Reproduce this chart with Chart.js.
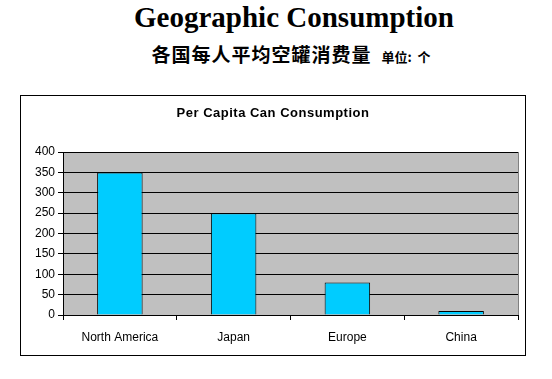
<!DOCTYPE html>
<html><head><meta charset="utf-8">
<script src="https://cdn.jsdelivr.net/npm/chart.js@4/dist/chart.umd.min.js"></script>
<style>
html,body{margin:0;padding:0;background:#fff;width:552px;height:379px;overflow:hidden;}
#t1{position:absolute;left:0;top:-1px;width:552px;padding-left:36px;box-sizing:border-box;text-align:center;font:bold 29px "Liberation Serif","Times New Roman",serif;line-height:36px;color:#000;}
#t2{position:absolute;left:0;top:40px;width:552px;padding-left:30px;box-sizing:border-box;text-align:center;color:#000;line-height:28px;}
#t2 .a{font:bold 19px "Noto Sans CJK SC",sans-serif;letter-spacing:1px;}
#t2 .b{font:bold 13px "Noto Sans CJK SC",sans-serif;margin-left:10px;word-spacing:3px;}
#box{position:absolute;left:20px;top:95px;width:504px;height:259px;border:1px solid #000;}
#ct{position:absolute;left:0;top:9px;width:504px;text-align:center;font:bold 13px "Liberation Sans",Arial,sans-serif;letter-spacing:0.5px;color:#000;}
canvas{position:absolute;left:0;top:0;}
</style></head>
<body>
<div id="t1">Geographic Consumption</div>
<div id="t2"><span class="a">各国每人平均空罐消费量</span><span class="b">单位: 个</span></div>
<div id="box"><canvas id="c" width="504" height="259"></canvas><div id="ct">Per Capita Can Consumption</div></div>
<script>
const categories = ["North America","Japan","Europe","China"];
const consumption = [350,250,80,10];
const yTicks = [0,50,100,150,200,250,300,350,400];

const plotBg = {
  id:'plotBg',
  beforeDraw(chart){
    const {ctx,chartArea:a}=chart;
    ctx.save();ctx.fillStyle='#c0c0c0';ctx.fillRect(a.left,a.top,a.right-a.left,a.bottom-a.top);ctx.restore();
  },
  afterDraw(chart){
    const {ctx,chartArea:a}=chart;
    ctx.save();ctx.strokeStyle='#808080';ctx.lineWidth=1;
    ctx.beginPath();ctx.moveTo(Math.round(a.right)+0.5,a.top);ctx.lineTo(Math.round(a.right)+0.5,a.bottom);ctx.stroke();
    ctx.restore();
  }
};
new Chart(document.getElementById('c'),{
  type:'bar',
  data:{labels:categories,datasets:[{data:consumption,backgroundColor:'#00ccff',borderColor:'#000',borderWidth:1,barPercentage:0.4,categoryPercentage:1}]},
  options:{
    responsive:false,animation:false,
    layout:{padding:{top:56,right:7,left:0,bottom:0}},
    plugins:{legend:{display:false},tooltip:{enabled:false},title:{display:false}},
    scales:{
      y:{min:0,max:400,
        afterBuildTicks(s){s.ticks=yTicks.map(v=>({value:v}));},
        afterFit(s){s.width=42;},
        grid:{color:'#000',lineWidth:1,tickLength:5,drawTicks:true},
        border:{color:'#000'},
        ticks:{color:'#000',padding:3,font:{family:'"Liberation Sans",Arial,sans-serif',size:12}}
      },
      x:{
        afterFit(s){s.height=40;},
        grid:{drawOnChartArea:false,color:'#000',tickLength:5,offset:true},
        border:{color:'#000'},
        ticks:{color:'#000',padding:10,font:{family:'"Liberation Sans",Arial,sans-serif',size:12}}
      }
    }
  },
  plugins:[plotBg]
});
</script>
</body></html>
